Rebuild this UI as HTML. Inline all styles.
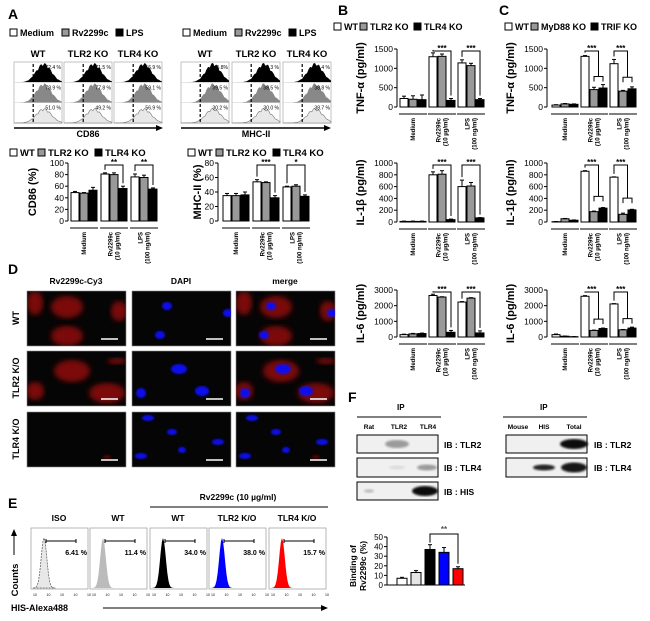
<!DOCTYPE html>
<html><head><meta charset="utf-8">
<style>
html,body{margin:0;padding:0;background:#fff;}
svg{display:block;font-family:"Liberation Sans",Arial,sans-serif;font-weight:bold;}
</style></head>
<body>
<svg id="fig" width="650" height="621" viewBox="0 0 650 621" xmlns="http://www.w3.org/2000/svg">
<defs>
<filter id="blur3"><feGaussianBlur stdDeviation="3"/></filter>
<filter id="blur1"><feGaussianBlur stdDeviation="1"/></filter>
</defs>
</svg>
<script>
// ---------- DATA ----------
const groupLabels = ["Medium","Rv2299c|(10 µg/ml)","LPS|(100 ng/ml)"];
const cd86Vals = [[49,48,53],[81,80,56],[76,75,55]];
const cd86Errs = [[2,1,5],[2,3,4],[5,4,2]];
const mhcVals = [[35,35,36],[54,53,32],[47,48,34]];
const mhcErrs = [[3,3,4],[3,1,3],[1,2,2]];
const bTnfVals = [[220,200,190],[1300,1310,170],[1140,1070,190]];
const bTnfErrs = [[60,90,120],[100,60,50],[80,60,30]];
const bIl1Vals = [[10,10,10],[800,810,40],[600,610,70]];
const bIl1Errs = [[5,5,5],[50,60,10],[110,60,5]];
const bIl6Vals = [[150,200,220],[2650,2550,300],[2230,2480,260]];
const bIl6Errs = [[30,30,30],[80,20,120],[30,30,130]];
const cTnfVals = [[50,80,70],[1310,450,490],[1120,410,470]];
const cTnfErrs = [[10,10,10],[20,60,90],[110,20,50]];
const cIl1Vals = [[5,55,30],[860,175,235],[760,130,205]];
const cIl1Errs = [[3,5,5],[10,10,10],[5,20,10]];
const cIl6Vals = [[150,50,20],[2600,420,540],[2110,460,570]];
const cIl6Errs = [[40,10,5],[40,20,30],[20,20,60]];
const fBindVals = [7,13,37,34,17];
const fBindErrs = [1,2,5,5,2];
const fBindColors = ["#fff","#e6e6e6","#000","#0000ff","#ff0000"];
const eCategories = ["ISO","WT","WT","TLR2 K/O","TLR4 K/O"];
const ePercents = ["6.41 %","11.4 %","34.0 %","38.0 %","15.7 %"];
const eColors = ["#e8e8e8","#bbbbbb","#000","#0000ff","#ff0000"];
const cd86Pct = [["72.4 %","78.9 %","51.0 %"],["71.5 %","77.8 %","49.2 %"],["56.9 %","59.1 %","56.9 %"]];
const mhcPct = [["45.8%","39.5 %","30.2 %"],["48.3 %","38.5 %","30.0 %"],["35.4 %","38.8 %","38.7 %"]];

const NS="http://www.w3.org/2000/svg";
const svg=document.getElementById('fig');
function el(tag,attrs,parent,text){const e=document.createElementNS(NS,tag);for(const k in attrs)e.setAttribute(k,attrs[k]);if(text!==undefined)e.textContent=text;(parent||svg).appendChild(e);return e;}
function txt(x,y,s,size,name,extra){const a=Object.assign({x:x,y:y,'font-size':size,fill:'#000'},extra||{});const t=el('text',a,null,s);return t;}

function legend(x,y,items,name){
  const g=el('g',{});
  
  
  let cx=x;
  items.forEach(it=>{
    el('rect',{x:cx,y:y-7,width:7,height:7,fill:it[1],stroke:'#000','stroke-width':1},g);
    el('text',{x:cx+10,y:y,'font-size':it[2]||9},g,it[0]);
    cx+=it[3];
  });
}

function barChart(c){
  const g=el('g',{});
  
  
  const ys=v=>c.bot-(v/c.max)*(c.bot-c.top);
  el('line',{x1:c.ax,y1:c.top,x2:c.ax,y2:c.bot,stroke:'#000','stroke-width':1},g);
  c.ticks.forEach(t=>{
    const y=ys(t);
    el('line',{x1:c.ax-3,y1:y,x2:c.ax,y2:y,stroke:'#000'},g);
    el('text',{x:c.ax-4,y:y+3,'font-size':c.fs||8.5,'text-anchor':'end','font-weight':'normal'},g,t);
  });
  const yl=el('text',{x:0,y:0,'font-size':c.yfs||11,'text-anchor':'middle',transform:`translate(${c.ylx},${(c.top+c.bot)/2}) rotate(-90)`},g,c.ylabel);
  
  
  const colors=c.colors;
  const barX=(gi,bi)=>c.ax+c.gx0+gi*c.gw+bi*(c.bw+1);
  c.vals.forEach((grp,gi)=>{
    grp.forEach((v,bi)=>{
      const x=barX(gi,bi),y=ys(v);
      const r=el('rect',{x:x,y:y,width:c.bw,height:c.bot-y,fill:colors[bi],stroke:'#000','stroke-width':1},g);
      
      
      const e=c.errs[gi][bi];
      el('line',{x1:x+c.bw/2,y1:y,x2:x+c.bw/2,y2:ys(v+e),stroke:'#000'},g);
      el('line',{x1:x+c.bw/2-2,y1:ys(v+e),x2:x+c.bw/2+2,y2:ys(v+e),stroke:'#000'},g);
    });
    const gx1=barX(gi,0)-1, gx2=barX(gi,2)+c.bw+1;
    el('line',{x1:gx1,y1:c.bot+7,x2:gx2,y2:c.bot+7,stroke:'#000'},g);
    const parts=groupLabels[gi].split('|');
    const cx=(gx1+gx2)/2;
    parts.forEach((p,pi)=>{
      const off=(pi-(parts.length-1)/2)*7;
      el('text',{x:0,y:0,'font-size':6,'text-anchor':'end',transform:`translate(${cx+off+2},${c.bot+11}) rotate(-90)`},g,p);
    });
  });
  (c.brackets||[]).forEach(b=>{
    const gi=b.g;
    const top=ys(c.max)+2;
    const xa=barX(gi,0)+c.bw/2, xb=barX(gi,2)+c.bw/2;
    if(b.nested){
      const top2=ys(Math.max(c.vals[gi][1],c.vals[gi][2])+c.max*0.2);
      const xm1=barX(gi,1)+c.bw/2;
      el('polyline',{points:`${xm1},${top2+5} ${xm1},${top2} ${xb},${top2} ${xb},${top2+5}`,fill:'none',stroke:'#000'},g);
      const xm=(xm1+xb)/2;
      el('polyline',{points:`${xa},${ys(c.vals[gi][0]+c.errs[gi][0])-3} ${xa},${top} ${xm},${top} ${xm},${top2}`,fill:'none',stroke:'#000'},g);
      el('text',{x:(xa+xm)/2,y:top,'font-size':8,'text-anchor':'middle'},g,b.s);
    } else {
      el('polyline',{points:`${xa},${ys(c.vals[gi][0]+c.errs[gi][0])-3} ${xa},${top} ${xb},${top} ${xb},${ys(c.vals[gi][2]+c.errs[gi][2])-3}`,fill:'none',stroke:'#000'},g);
      el('text',{x:(xa+xb)/2,y:top,'font-size':8,'text-anchor':'middle'},g,b.s);
    }
  });
}
const C3=["#fff","#999","#000"];

// ---------- Panel A ----------
txt(8,19,"A",14,"panel-a-label");
legend(10,36,[["Medium","#fff",9,52],["Rv2299c","#999",9,54],["LPS","#000",9,40]],"legend-a-flow-1");
legend(183,36,[["Medium","#fff",9,52],["Rv2299c","#999",9,54],["LPS","#000",9,40]],"legend-a-flow-2");

function flowHist(x,y,w,h,pct,name,peakShift){
  const g=el('g',{});
  
  
  el('rect',{x:x,y:y,width:w,height:h,fill:'#fff',stroke:'#aaa','stroke-width':0.7},g);
  const rh=h/3;
  const fills=['#000','#888','#e8e8e8'];
  for(let r=0;r<3;r++){
    const base=y+rh*(r+1);
    let pts=`${x},${base} `;
    for(let i=0;i<=30;i++){
      const t=i/30;
      const amp=Math.exp(-Math.pow((t-0.62-peakShift)/0.22,2));
      const jig=(i%3===0?0.85:1)*(r===2?0.75:1);
      pts+=`${x+t*w},${base-amp*rh*0.95*jig} `;
    }
    pts+=`${x+w},${base}`;
    el('polygon',{points:pts,fill:fills[r],stroke:r===2?'#777':'none','stroke-width':0.6},g);
    if(r<2) el('line',{x1:x,y1:base,x2:x+w,y2:base,stroke:'#ccc','stroke-width':0.5},g);
    el('text',{x:x+w-1,y:y+rh*r+7,'font-size':5,'text-anchor':'end','font-weight':'normal'},g,pct[r]);
  }
  el('line',{x1:x+w*0.4,y1:y+2,x2:x+w*0.4,y2:y+h,stroke:'#000','stroke-dasharray':'3,2','stroke-width':1.2},g);
}
const fhTitles=["WT","TLR2 KO","TLR4 KO"];
const fhX1=[14,64,114], fhX2=[181,232,283];
fhX1.forEach((x,i)=>{txt(x+24,57,fhTitles[i],9.5,"flow-title",{'text-anchor':'middle'});flowHist(x,62,48,61,cd86Pct[i],"cd86-histogram",0);});
fhX2.forEach((x,i)=>{txt(x+24,57,fhTitles[i],9.5,"flow-title",{'text-anchor':'middle'});flowHist(x,62,48,61,mhcPct[i],"mhc-histogram",0.05);});
el('line',{x1:14,y1:128,x2:158,y2:128,stroke:'#000','stroke-width':1.5});
el('polygon',{points:"163,128 156,125 156,131",fill:'#000'});
el('line',{x1:181,y1:128,x2:326,y2:128,stroke:'#000','stroke-width':1.5});
el('polygon',{points:"331,128 324,125 324,131",fill:'#000'});
txt(88,137,"CD86",9,"x-axis-title-cd86",{'text-anchor':'middle'});
txt(256,137,"MHC-II",9,"x-axis-title-mhc",{'text-anchor':'middle'});

legend(10,156,[["WT","#fff",9.5,28],["TLR2 KO","#999",9.5,57],["TLR4 KO","#000",9.5,50]],"legend-a-bars-1");
legend(188,156,[["WT","#fff",9.5,28],["TLR2 KO","#999",9.5,57],["TLR4 KO","#000",9.5,50]],"legend-a-bars-2");
barChart({name:"cd86-bar-chart",ax:68,top:163,bot:221,max:100,ticks:[0,20,40,60,80,100],vals:cd86Vals,errs:cd86Errs,colors:C3,gx0:3,gw:30,bw:8,ylabel:"CD86 (%)",ylx:36,brackets:[{g:1,s:"**"},{g:2,s:"**"}]});
barChart({name:"mhc-bar-chart",ax:218,top:163,bot:221,max:80,ticks:[0,20,40,60,80],vals:mhcVals,errs:mhcErrs,colors:C3,gx0:5,gw:30,bw:8,ylabel:"MHC-II (%)",ylx:201,brackets:[{g:1,s:"***"},{g:2,s:"*"}]});

// ---------- Panel B & C ----------
txt(338,15,"B",14,"panel-b-label");
txt(499,15,"C",14,"panel-c-label");
legend(334,30,[["WT","#fff",9,26],["TLR2 KO","#999",9,54],["TLR4 KO","#000",9,50]],"legend-b");
legend(505,30,[["WT","#fff",9,26],["MyD88 KO","#999",9,60],["TRIF KO","#000",9,50]],"legend-c");
barChart({name:"b-tnf-chart",ax:397,top:49,bot:107,max:1500,ticks:[0,500,1000,1500],vals:bTnfVals,errs:bTnfErrs,colors:C3,gx0:3,gw:29,bw:8,ylabel:"TNF-α (pg/ml)",ylx:364,brackets:[{g:1,s:"***"},{g:2,s:"***"}]});
barChart({name:"b-il1b-chart",ax:397,top:163,bot:222,max:1000,ticks:[0,200,400,600,800,1000],vals:bIl1Vals,errs:bIl1Errs,colors:C3,gx0:3,gw:29,bw:8,ylabel:"IL-1β (pg/ml)",ylx:364,brackets:[{g:1,s:"***"},{g:2,s:"***"}]});
barChart({name:"b-il6-chart",ax:397,top:290,bot:337,max:3000,ticks:[0,1000,2000,3000],vals:bIl6Vals,errs:bIl6Errs,colors:C3,gx0:3,gw:29,bw:8,ylabel:"IL-6 (pg/ml)",ylx:364,brackets:[{g:1,s:"***"},{g:2,s:"***"}]});
barChart({name:"c-tnf-chart",ax:547,top:49,bot:107,max:1500,ticks:[0,500,1000,1500],vals:cTnfVals,errs:cTnfErrs,colors:C3,gx0:5,gw:29,bw:8,ylabel:"TNF-α (pg/ml)",ylx:514,brackets:[{g:1,s:"***",nested:true},{g:2,s:"***",nested:true}]});
barChart({name:"c-il1b-chart",ax:547,top:163,bot:222,max:1000,ticks:[0,200,400,600,800,1000],vals:cIl1Vals,errs:cIl1Errs,colors:C3,gx0:5,gw:29,bw:8,ylabel:"IL-1β (pg/ml)",ylx:514,brackets:[{g:1,s:"***",nested:true},{g:2,s:"***",nested:true}]});
barChart({name:"c-il6-chart",ax:547,top:290,bot:337,max:3000,ticks:[0,1000,2000,3000],vals:cIl6Vals,errs:cIl6Errs,colors:C3,gx0:5,gw:29,bw:8,ylabel:"IL-6 (pg/ml)",ylx:514,brackets:[{g:1,s:"***",nested:true},{g:2,s:"***",nested:true}]});

// ---------- Panel D ----------
txt(8,274,"D",14,"panel-d-label");
const dCols=[27,132,236], dRows=[291,351,412], dTitles=["Rv2299c-Cy3","DAPI","merge"], dRowLabels=["WT","TLR2 K/O","TLR4 K/O"];
dTitles.forEach((t,i)=>txt(dCols[i]+49,284,t,8.5,"image-column-title",{'text-anchor':'middle'}));
dRowLabels.forEach((t,i)=>{txt(0,0,t,9,"image-row-label",{'text-anchor':'middle',transform:`translate(19,${dRows[i]+27}) rotate(-90)`});});
const cellsR=[[[8,12,8,12],[40,16,16,11],[40,45,16,10],[92,20,8,10]],[[45,20,18,11],[8,40,9,9],[80,42,18,10],[90,10,10,3]],[[]]];
const nucs=[[[35,15,5,4],[28,44,5,4],[96,22,5,4]],[[47,18,8,5],[70,40,7,5],[9,42,5,5]],[[16,6,6,3],[40,20,5,3],[86,30,6,3],[9,44,6,3],[50,38,4,3]]];
for(let r=0;r<3;r++)for(let c=0;c<3;c++){
  const g=el('g',{});
  
  
  const x=dCols[c],y=dRows[r],w=99,h=55;
  el('rect',{x:x,y:y,width:w,height:h,fill:'#050505',stroke:'#888','stroke-width':0.6},g);
  const clip='clip'+r+c;
  const cp=el('clipPath',{id:clip},g);el('rect',{x:x,y:y,width:w,height:h},cp);
  const inner=el('g',{'clip-path':`url(#${clip})`},g);
  if(c!==1&&r<2) cellsR[r].forEach(e=>el('ellipse',{cx:x+e[0],cy:y+e[1],rx:e[2],ry:e[3],fill:'#b01010',opacity:0.7,filter:'url(#blur3)'},inner));
  if(c!==1&&r===2) el('ellipse',{cx:x+80,cy:y+45,rx:4,ry:2,fill:'#500',filter:'url(#blur1)'},inner);
  if(c!==0) nucs[r].forEach(e=>el('ellipse',{cx:x+e[0],cy:y+e[1],rx:e[2],ry:e[3],fill:'#1010ee',filter:'url(#blur1)'},inner));
  el('line',{x1:x+74,y1:y+h-7,x2:x+91,y2:y+h-7,stroke:'#fff','stroke-width':1.5},g);
}

// ---------- Panel E ----------
txt(8,508,"E",14,"panel-e-label");
txt(238,500,"Rv2299c (10 µg/ml)",8.5,"treatment-label",{'text-anchor':'middle'});
el('line',{x1:150,y1:507,x2:328,y2:507,stroke:'#000','stroke-width':1});
const eX=[31,90,150,209,269];
eX.forEach((x,i)=>{
  txt(x+28,521,eCategories[i],8.5,"histogram-title",{'text-anchor':'middle'});
  const g=el('g',{});
  
  
  el('rect',{x:x,y:528,width:57,height:61,fill:'#fff',stroke:'#999','stroke-width':0.7},g);
  let pts=`${x+2},588 `;
  for(let k=0;k<=20;k++){const t=k/20;const a=Math.exp(-Math.pow((t-0.5)/0.18,2));pts+=`${x+2+t*22},${588-a*50} `;}
  pts+=`${x+24},588`;
  el('polygon',{points:pts,fill:eColors[i],stroke:i===0?'#666':'none','stroke-dasharray':i===0?'2,1':'none','stroke-width':0.8},g);
  el('line',{x1:x+15,y1:541,x2:x+45,y2:541,stroke:'#000'},g);
  el('line',{x1:x+15,y1:539,x2:x+15,y2:543,stroke:'#000'},g);
  el('line',{x1:x+45,y1:539,x2:x+45,y2:543,stroke:'#000'},g);
  el('text',{x:x+56,y:555,'font-size':7,'text-anchor':'end'},g,ePercents[i]);
  for(let k=0;k<5;k++) el('text',{x:x+2+k*13.5,y:596,'font-size':3.5,'font-weight':'normal'},g,'10');
});
txt(0,0,"Counts",9.5,"y-axis-title-counts",{'text-anchor':'middle',transform:'translate(18,580) rotate(-90)'});
el('line',{x1:14,y1:555,x2:14,y2:535,stroke:'#000'});
el('polygon',{points:"14,529 11,536 17,536",fill:'#000'});
txt(11,611,"HIS-Alexa488",9,"x-axis-title-his");
el('line',{x1:103,y1:608,x2:322,y2:608,stroke:'#000'});
el('polygon',{points:"328,608 321,605 321,611",fill:'#000'});

// ---------- Panel F ----------
txt(348,402,"F",14,"panel-f-label");
txt(397,410,"IP",8,"ip-label");
txt(540,410,"IP",8,"ip-label");
el('line',{x1:357,y1:417,x2:441,y2:417,stroke:'#000'});
el('line',{x1:503,y1:417,x2:587,y2:417,stroke:'#000'});
[["Rat",369],["TLR2",399],["TLR4",428]].forEach(l=>txt(l[1],429,l[0],6.5,"lane-label",{'text-anchor':'middle'}));
[["Mouse",518],["HIS",544],["Total",574]].forEach(l=>txt(l[1],429,l[0],6.5,"lane-label",{'text-anchor':'middle'}));
function blot(x,y,w,h,bands,name){
  const g=el('g',{});
  
  
  el('rect',{x:x,y:y,width:w,height:h,fill:'#f0f0f0',stroke:'#000','stroke-width':1},g);
  bands.forEach(b=>el('ellipse',{cx:x+b[0],cy:y+h/2,rx:b[1],ry:b[2],fill:'#000',opacity:b[3],filter:'url(#blur1)'},g));
}
blot(357,435,81,18,[[40,12,4,0.35]],"blot-ib-tlr2-left");
blot(357,458,81,19,[[70,10,3,0.35],[40,8,2,0.08]],"blot-ib-tlr4-left");
blot(357,482,81,18,[[68,13,5,0.95],[12,5,2,0.2]],"blot-ib-his");
blot(506,435,81,18,[[68,14,5,0.95]],"blot-ib-tlr2-right");
blot(506,458,81,19,[[38,11,3,0.85],[68,13,5,0.9]],"blot-ib-tlr4-right");
txt(444,448,"IB : TLR2",8.5,"blot-label");
txt(444,471,"IB : TLR4",8.5,"blot-label");
txt(444,495,"IB : HIS",8.5,"blot-label");
txt(594,448,"IB : TLR2",8.5,"blot-label");
txt(594,471,"IB : TLR4",8.5,"blot-label");
(function(){
  const g=el('g',{});
  
  
  const ax=387,top=537,bot=585,max=50;
  const ys=v=>bot-(v/max)*(bot-top);
  el('line',{x1:ax,y1:top,x2:ax,y2:bot,stroke:'#000'},g);
  [0,10,20,30,40,50].forEach(t=>{el('line',{x1:ax-3,y1:ys(t),x2:ax,y2:ys(t),stroke:'#000'},g);el('text',{x:ax-4,y:ys(t)+3,'font-size':8,'text-anchor':'end','font-weight':'normal'},g,t);});
  el('line',{x1:ax,y1:bot,x2:465,y2:bot,stroke:'#000'},g);
  fBindVals.forEach((v,i)=>{
    const x=ax+10+i*14;
    const r=el('rect',{x:x,y:ys(v),width:10,height:bot-ys(v),fill:fBindColors[i],stroke:'#000'},g);
    
    
    el('line',{x1:x+5,y1:ys(v),x2:x+5,y2:ys(v+fBindErrs[i]),stroke:'#000'},g);
    el('line',{x1:x+3,y1:ys(v+fBindErrs[i]),x2:x+7,y2:ys(v+fBindErrs[i]),stroke:'#000'},g);
  });
  const xa=ax+15+2*14, xb=ax+15+4*14;
  el('polyline',{points:`${xa},${ys(fBindVals[2]+fBindErrs[2])-2} ${xa},${top-3} ${xb},${top-3} ${xb},${ys(fBindVals[4]+fBindErrs[4])-3}`,fill:'none',stroke:'#000'},g);
  el('text',{x:(xa+xb)/2,y:top-5,'font-size':8,'text-anchor':'middle',fill:'#555'},g,"**");
  el('text',{x:0,y:0,'font-size':8.5,'text-anchor':'middle',transform:`translate(356,${(top+bot)/2+5}) rotate(-90)`},g,"Binding of");
  el('text',{x:0,y:0,'font-size':8.5,'text-anchor':'middle',transform:`translate(366,${(top+bot)/2+5}) rotate(-90)`},g,"Rv2299c (%)");
})();
</script>
</body></html>
